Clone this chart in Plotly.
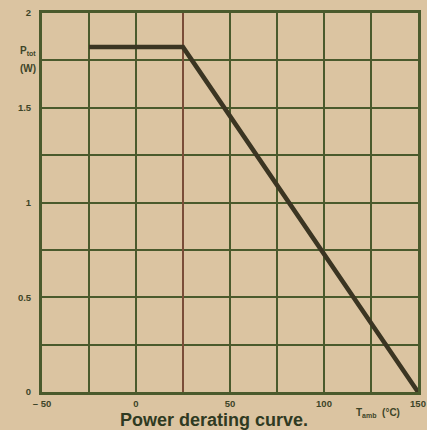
import plotly.graph_objects as go

# Data
temp_c = [-25, 25, 150]
power_w = [1.82, 1.82, 0.0]

x_ticks = [-50, 0, 50, 100, 150]
x_labels = ["<b>\u2013 50</b>", "<b>0</b>", "<b>50</b>", "<b>100</b>", "<b>150</b>"]
y_ticks = [0, 0.5, 1, 1.5, 2]
y_labels = ["<b>0</b>", "<b>0.5</b>", "<b>1</b>", "<b>1.5</b>", "<b>2</b>"]
x_minor_step = 25
y_minor_step = 0.25
knee_x = 25

BG = "#dbc4a1"
GRID = "#4a5a2c"
CURVE = "#3b3522"
TXT = "#3d4528"

L, R, T, B = 42, 9, 13, 38
W, H = 427, 430

fig = go.Figure()
fig.add_trace(go.Scatter(x=temp_c, y=power_w, mode="lines",
                         line=dict(color=CURVE, width=4.5), hoverinfo="skip",
                         showlegend=False))

fig.add_shape(type="line", x0=knee_x, x1=knee_x, y0=0, y1=2, xref="x", yref="y",
              line=dict(color="#8b4a3c", width=1.5), layer="between")

fig.update_layout(
    width=W, height=H,
    margin=dict(l=L, r=R, t=T, b=B, autoexpand=False),
    paper_bgcolor=BG, plot_bgcolor=BG,
    font=dict(family="Liberation Sans, Arial, sans-serif", color=TXT, size=10),
    xaxis=dict(range=[-50, 150], tickvals=x_ticks, ticktext=x_labels,
               showgrid=True, gridcolor=GRID, gridwidth=2, automargin=False,
               minor=dict(dtick=x_minor_step, tick0=-50, showgrid=True,
                          gridcolor=GRID, gridwidth=2, ticks=""),
               showline=True, linecolor=GRID, linewidth=3, mirror=True,
               zeroline=False, ticks="", ticklabelstandoff=1,
               tickfont=dict(size=9.5, color=TXT)),
    yaxis=dict(range=[0, 2], tickvals=y_ticks, ticktext=y_labels,
               showgrid=True, gridcolor=GRID, gridwidth=2, automargin=False,
               minor=dict(dtick=y_minor_step, tick0=0, showgrid=True,
                          gridcolor=GRID, gridwidth=2, ticks=""),
               showline=True, linecolor=GRID, linewidth=3, mirror=True,
               zeroline=False, ticks="", ticklabelstandoff=6,
               tickfont=dict(size=9.5, color=TXT)),
)

pw, ph = W - L - R, H - T - B


def ann(text, px, py, anchor="center", size=10, color=TXT):
    fig.add_annotation(text=text, xref="paper", yref="paper",
                       x=(px - L) / pw, y=(H - B - py) / ph,
                       xanchor=anchor, yanchor="middle", showarrow=False,
                       font=dict(size=size, color=color))


ann("<b>P<sub>tot</sub></b>", 38, 51, anchor="right")
ann("<b>(W)</b>", 38, 68, anchor="right")
ann("<b>Power derating curve.</b>", 214, 420, size=18, color="#2f3a22")
ann("<b>T<sub>amb</sub>  (\u00b0C)</b>", 378, 413, size=10)

fig.write_html(
    "out.html",
    config={"displayModeBar": False},
    post_script="document.body.style.margin='0';document.body.style.overflow='hidden';"
                "document.body.style.background='" + BG + "';",
)
